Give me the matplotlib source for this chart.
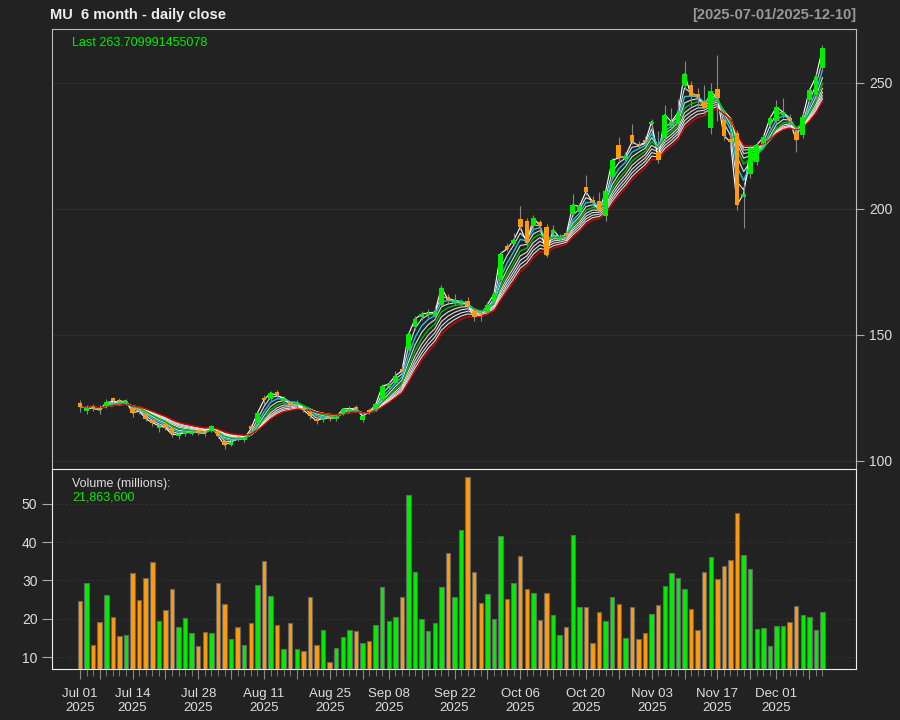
import matplotlib
matplotlib.use('Agg')
import matplotlib.pyplot as plt
import numpy as np
import pandas as pd

plt.rcParams['font.family'] = ['Liberation Sans', 'DejaVu Sans']

# trading days Jul 1 - Dec 10 2025
holidays = pd.to_datetime(['2025-07-04', '2025-09-01', '2025-11-27'])
dates = pd.bdate_range('2025-07-01', '2025-12-10')
dates = dates[~dates.isin(holidays)]

opens = [123.0, 120.0, 121.5, 121.2, 121.8, 124.8, 124.2, 122.8, 121.0, 120.5,
         118.5, 116.2, 113.0, 114.5, 113.0, 109.8, 110.5, 110.8, 112.2, 111.8,
         111.8, 111.8, 108.0, 106.5, 109.6, 108.2, 113.8, 115.2, 125.0, 124.5,
         127.2, 123.8, 123.0, 122.0, 121.0, 119.6, 116.8, 116.2, 117.6, 116.8,
         118.6, 120.0, 121.4, 116.2, 120.2, 120.6, 124.5, 129.2, 131.0, 136.5,
         144.5, 153.0, 157.0, 157.8, 157.6, 162.0, 165.2, 162.6, 162.4, 163.4,
         159.6, 158.6, 159.2, 163.0, 172.0, 185.2, 186.2, 196.2, 195.2, 193.2,
         194.8, 193.0, 190.6, 187.8, 190.4, 198.0, 198.8, 208.6, 203.6, 203.2,
         197.0, 212.8, 225.2, 220.0, 229.4, 225.8, 227.2, 233.6, 222.6, 228.0,
         232.8, 233.8, 248.6, 249.0, 245.6, 242.4, 232.0, 247.4, 235.4, 227.6,
         230.0, 204.6, 214.0, 218.6, 226.0, 233.2, 235.0, 237.2, 236.2, 230.4,
         229.4, 243.4, 245.2, 256.0]
highs = [124.0, 122.0, 122.5, 122.0, 124.5, 125.5, 125.0, 124.6, 121.6, 121.2,
         119.2, 116.8, 114.6, 115.0, 113.5, 111.6, 112.2, 112.5, 112.8, 112.4,
         114.4, 112.4, 108.5, 108.2, 110.4, 109.8, 114.6, 119.6, 126.0, 127.8,
         128.0, 125.6, 123.8, 124.0, 121.8, 120.2, 117.6, 117.8, 118.4, 118.2,
         121.2, 121.8, 122.2, 118.4, 121.0, 123.0, 130.6, 131.6, 135.6, 137.5,
         151.0, 157.4, 159.4, 160.2, 161.4, 170.0, 166.4, 166.2, 164.4, 165.0,
         160.8, 159.6, 163.0, 167.4, 183.2, 186.4, 190.4, 201.0, 196.4, 197.6,
         195.6, 194.2, 193.8, 190.2, 191.6, 205.8, 202.2, 213.6, 205.0, 206.8,
         208.0, 220.4, 228.4, 222.6, 233.6, 227.0, 229.0, 235.6, 230.8, 241.4,
         240.0, 243.6, 258.8, 250.6, 248.0, 249.2, 249.8, 261.0, 237.0, 230.0,
         231.4, 210.0, 225.2, 226.6, 229.8, 237.0, 243.2, 244.2, 237.8, 231.6,
         238.0, 248.0, 253.4, 265.2]
lows = [119.5, 118.5, 119.8, 118.8, 121.2, 122.5, 122.8, 122.2, 117.5, 118.6,
        115.8, 113.8, 111.5, 112.4, 109.5, 108.6, 109.8, 110.2, 110.3, 110.0,
        111.4, 109.2, 104.8, 105.8, 108.0, 107.6, 111.4, 114.6, 122.5, 123.6,
        124.8, 122.8, 120.6, 121.2, 119.4, 116.8, 114.6, 115.4, 116.0, 115.8,
        118.2, 119.6, 119.8, 115.6, 118.6, 120.0, 124.0, 128.4, 130.4, 134.5,
        143.8, 152.0, 156.0, 156.8, 156.8, 161.5, 162.4, 161.8, 161.6, 159.0,
        155.4, 155.6, 158.6, 162.4, 171.2, 183.2, 185.6, 191.6, 185.4, 192.4,
        191.2, 180.8, 189.8, 186.8, 188.6, 197.2, 198.0, 205.6, 200.8, 197.4,
        195.4, 212.0, 219.2, 219.2, 225.6, 224.0, 224.8, 231.0, 218.4, 227.0,
        232.0, 232.8, 247.4, 240.8, 240.2, 237.8, 229.6, 235.0, 227.4, 224.8,
        199.6, 192.6, 212.4, 217.4, 224.8, 232.0, 233.8, 236.2, 233.2, 222.4,
        228.2, 242.2, 244.0, 255.0]
closes = [121.6, 121.0, 120.8, 120.2, 123.2, 123.6, 123.4, 123.8, 119.0, 119.8,
          116.8, 115.2, 114.0, 113.2, 110.5, 110.6, 111.4, 111.6, 111.2, 111.0,
          113.8, 110.0, 106.3, 107.6, 109.0, 109.0, 112.6, 119.0, 124.2, 127.0,
          126.0, 124.8, 122.2, 123.0, 120.2, 118.0, 116.0, 117.0, 116.8, 117.4,
          120.6, 120.8, 120.6, 117.8, 119.4, 122.4, 129.6, 130.6, 133.8, 135.8,
          150.2, 156.4, 158.2, 158.8, 159.0, 168.8, 164.0, 163.4, 163.0, 161.6,
          157.2, 157.8, 162.0, 166.2, 182.2, 184.2, 187.6, 192.8, 186.6, 196.4,
          193.4, 181.6, 191.8, 188.6, 189.8, 201.6, 201.0, 206.8, 202.8, 199.0,
          207.0, 219.4, 220.2, 221.0, 226.6, 225.2, 226.4, 234.6, 219.4, 237.4,
          234.6, 238.2, 253.6, 245.0, 244.4, 240.0, 246.6, 244.0, 229.0, 226.6,
          201.6, 206.0, 224.0, 225.4, 228.4, 236.0, 240.4, 238.4, 235.2, 227.2,
          236.6, 247.0, 252.4, 263.709991455078]
volume = [24.7, 29.3, 13.2, 19.1, 26.2, 20.4, 15.4, 15.8, 32.0, 24.9,
          30.6, 34.7, 19.3, 22.2, 27.9, 17.8, 20.3, 16.4, 13.0, 16.6,
          16.4, 29.3, 23.9, 14.7, 17.8, 13.1, 18.9, 28.9, 35.1, 25.9,
          18.4, 12.2, 18.9, 12.2, 11.5, 25.8, 13.1, 17.0, 8.7, 12.5,
          15.3, 17.2, 16.7, 13.8, 14.1, 18.5, 28.4, 19.4, 20.6, 25.8,
          52.4, 32.2, 20.0, 16.9, 18.8, 28.2, 37.3, 25.8, 43.3, 57.1,
          32.1, 24.0, 26.5, 20.0, 41.6, 25.1, 29.3, 36.3, 27.9, 26.8,
          19.7, 26.8, 20.9, 15.9, 17.8, 42.0, 23.2, 23.2, 13.8, 21.9,
          19.4, 25.8, 23.9, 14.9, 23.2, 14.7, 16.3, 21.2, 23.7, 28.6,
          32.0, 30.6, 27.9, 22.5, 17.2, 32.3, 36.1, 30.4, 33.9, 35.3,
          47.5, 36.6, 33.0, 17.3, 17.6, 12.9, 18.2, 18.2, 19.2, 23.4,
          21.1, 20.5, 17.0, 21.8636]

white_spans = [2, 4, 6, 7, 8, 9]

bg = '#222222'
up_col = '#00ee00'
dn_col = '#ff9a0a'

o = np.array(opens)
h = np.array(highs)
l = np.array(lows)
c = np.array(closes)
x = np.arange(len(c))
cols = [up_col if cc >= oo else dn_col for oo, cc in zip(o, c)]

fig = plt.figure(figsize=(9, 7.2), dpi=100, facecolor=bg)
ax = fig.add_axes([52/900, 1-469/720, 804/900, 440/720], facecolor=bg)
axv = fig.add_axes([52/900, 1-669/720, 804/900, 200/720], facecolor=bg)

# price panel
ax.set_xlim(-4.26, 118.1)
ax.set_ylim(96.8, 271.4)
for yy in [100, 150, 200, 250]:
    ax.axhline(yy, color='#2e2e2e', lw=0.8, zorder=0)

s = pd.Series(c)
for n in white_spans:
    ax.plot(x, s.ewm(span=n, adjust=False).mean(), color='white', lw=0.8, alpha=0.85, zorder=2)
ax.plot(x, c, color='white', lw=0.8, zorder=2)
ax.plot(x, s.ewm(span=3, adjust=False).mean(), color='#1ec8dc', lw=1, zorder=2.5)
ax.plot(x, s.ewm(span=5, adjust=False).mean(), color='#00c000', lw=1, zorder=2.5)
ax.plot(x, s.ewm(span=10, adjust=False).mean(), color='#e00000', lw=1, zorder=2.5)

ax.vlines(x, l, h, color='#888888', lw=0.8, zorder=3)
body_lo = np.minimum(o, c)
body_h = np.maximum(np.abs(c - o), 0.4)
ax.bar(x, body_h, bottom=body_lo, width=0.7, color=cols, lw=0, zorder=4)

ax.yaxis.tick_right()
ax.set_yticks([100, 150, 200, 250])
ax.tick_params(axis='y', colors='#dddddd', labelsize=10, length=6, direction='out')
ax.tick_params(axis='y', color='#aaaaaa')
ax.set_xticks([])
for sp in ['top', 'left', 'right']:
    ax.spines[sp].set_color('#bbbbbb')
ax.spines['bottom'].set_visible(False)

ax.text(20/804, 1-14/440, 'Last 263.709991455078', transform=ax.transAxes,
        color='#00ee00', fontsize=9, va='center', ha='left')

# volume panel
axv.set_xlim(-4.26, 118.1)
axv.set_ylim(6.9, 59.1)
for yy in [10, 20, 30, 40, 50]:
    axv.axhline(yy, color='#333333', lw=0.8, ls=(0, (2, 2)), zorder=0)
axv.bar(x, volume, width=0.68, color=cols, edgecolor='#666666', lw=0.8, zorder=3)
axv.set_yticks([10, 20, 30, 40, 50])
axv.tick_params(axis='y', colors='#dddddd', labelsize=10, length=7, direction='out')
axv.tick_params(axis='y', color='#aaaaaa')
for sp in axv.spines.values():
    sp.set_color('#eeeeee')

# x ticks: weekly major, daily minor, labels every other week
week = dates.to_period('W')
major = [i for i in range(len(dates)) if i == 0 or week[i] != week[i-1]]
labeled = major[::2]
axv.set_xticks(x, minor=True)
axv.set_xticks(major)
axv.set_xticklabels([dates[i].strftime('%b %d\n%Y') if i in labeled else '' for i in major])
axv.tick_params(axis='x', which='major', colors='#dddddd', labelsize=9.5, length=7, color='#888888', pad=7)
axv.tick_params(axis='x', which='minor', length=5, color='#888888')
for lab in axv.get_xticklabels():
    lab.set_linespacing(1.15)

axv.text(20/804, 1-15/200, 'Volume (millions):', transform=axv.transAxes,
         color='#dddddd', fontsize=9, va='center', ha='left')
axv.text(20/804, 1-28/200, '21,863,600', transform=axv.transAxes,
         color='#00ee00', fontsize=9, va='center', ha='left')

fig.text(50/900, 1-15/720, 'MU  6 month - daily close', color='#eeeeee',
         fontsize=10.5, fontweight='bold', va='center', ha='left')
fig.text(856/900, 1-15/720, '[2025-07-01/2025-12-10]', color='#999999',
         fontsize=10.5, fontweight='bold', va='center', ha='right')

fig.savefig('out.png', dpi=100, facecolor=bg)
